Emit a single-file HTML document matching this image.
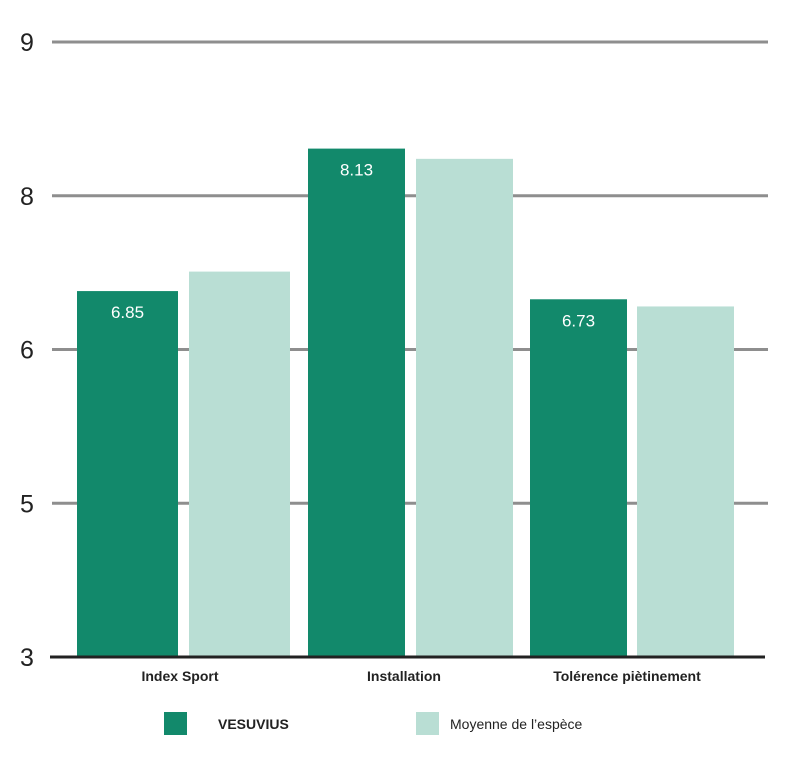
<!DOCTYPE html>
<html><head><meta charset="utf-8">
<style>
body{margin:0;background:#fff;}
svg{display:block;font-family:"Liberation Sans",sans-serif;}
</style></head>
<body>
<svg id="chart" width="785" height="772" viewBox="0 0 785 772"></svg>
<script>
const categories = ["Index Sport","Installation","Tolérence piètinement"];
const vesuviusValues = [6.57, 7.96, 6.49];
const vesuviusLabels = ["6.85","8.13","6.73"];
const averageValues = [6.76, 7.86, 6.42];
const tickValues = [3, 4.5, 6, 7.5, 9];
const tickLabels = ["3","5","6","8","9"];

const NS="http://www.w3.org/2000/svg";
const svg=document.getElementById('chart');
const y0=657, y1=42, vMin=3, vMax=9;
function yScale(v){return y0-(v-vMin)/(vMax-vMin)*(y0-y1);}
const groupDarkX=[77,308,530], groupLightX=[189,416,637], barW=[101,97,97], labelX=[180,404,627];
function mk(tag,attrs,name,inter){const e=document.createElementNS(NS,tag);for(const k in attrs)e.setAttribute(k,attrs[k]);


svg.appendChild(e);return e;}
tickValues.forEach((v,i)=>{
  const y=yScale(v);
  if(i>0) mk('line',{x1:52,x2:768,y1:y,y2:y,stroke:'#8e8e8e','stroke-width':3},'gridline',false);
  const t=mk('text',{x:20,y:y+9,'font-size':25,fill:'#222'},'y-tick-label',false);t.textContent=tickLabels[i];
});
categories.forEach((c,i)=>{
  const w=barW[i];
  let yv=yScale(vesuviusValues[i]);
  mk('rect',{x:groupDarkX[i],y:yv,width:w,height:y0-yv,fill:'#12896b'},'bar-vesuvius',true);
  const lt=mk('text',{x:groupDarkX[i]+w/2,y:yv+27,'font-size':17,fill:'#fff','text-anchor':'middle'},'bar-value-label',false);lt.textContent=vesuviusLabels[i];
  let ya=yScale(averageValues[i]);
  mk('rect',{x:groupLightX[i],y:ya,width:w,height:y0-ya,fill:'#b9ded4'},'bar-average',true);
  const ct=mk('text',{x:labelX[i],y:681,'font-size':14,'font-weight':'bold',fill:'#222','text-anchor':'middle'},'x-category-label',false);ct.textContent=c;
});
mk('line',{x1:50,x2:765,y1:y0,y2:y0,stroke:'#222','stroke-width':3},'x-axis-line',false);
mk('rect',{x:164,y:712,width:23,height:23,fill:'#12896b'},'legend-swatch-vesuvius',false);
let t=mk('text',{x:218,y:729,'font-size':14,'font-weight':'bold',fill:'#222'},'legend-label-vesuvius',false);t.textContent="VESUVIUS";
mk('rect',{x:416,y:712,width:23,height:23,fill:'#b9ded4'},'legend-swatch-average',false);
t=mk('text',{x:450,y:729,'font-size':14,fill:'#222'},'legend-label-average',false);t.textContent="Moyenne de l’espèce";
</script>
</body></html>
